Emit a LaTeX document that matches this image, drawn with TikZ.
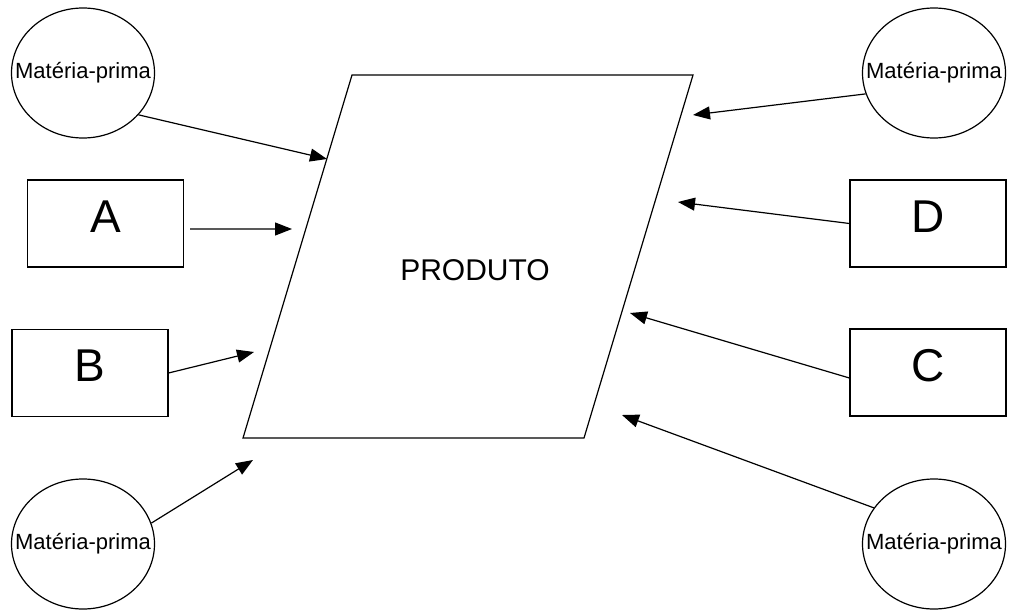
\documentclass[tikz,border=0pt]{standalone}
\usepackage{fontspec}
\setmainfont{Liberation Sans}
\usetikzlibrary{shapes.geometric,arrows.meta}
\newcommand{\mptext}{Mat\'eria-prima}
\newcommand{\mpfont}{\fontsize{22}{24}\selectfont}
\newcommand{\boxfont}{\fontsize{46}{50}\selectfont}
\begin{document}
\begin{tikzpicture}[x=1pt,y=-1pt,line width=1.2pt,
    mp node/.style={ellipse,draw,inner sep=0pt,minimum width=143pt,minimum height=130pt,
      label={[font=\mpfont,inner sep=0pt]center:\mptext}},
    box node/.style={rectangle,draw,inner sep=0pt,minimum width=156pt,minimum height=87pt,text depth=14pt,font=\boxfont},
    feed/.style={-{Triangle[length=17pt,width=13pt]}}]
    \useasboundingbox (0,0) rectangle (1009,610);

    \node[mp node] (mpTL) at (83,73) {};
    \node[box node] (A) [below of=mpTL,node distance=150.5pt,xshift=22.5pt] {A};
    \node[box node] (B) [below of=A,node distance=149.5pt,xshift=-15.5pt] {B};
    \node[mp node] (mpBL) [below of=B,node distance=171pt,xshift=-7pt] {};

    \node[mp node] (mpTR) at (934,73) {};
    \node[box node] (D) [below of=mpTR,node distance=150.5pt,xshift=-6pt] {D};
    \node[box node] (C) [below of=D,node distance=149pt] {C};
    \node[mp node] (mpBR) [below of=C,node distance=171.5pt,xshift=6pt] {};

    \coordinate (pTL) at (352,75);
    \coordinate (pTR) at (693,75);
    \coordinate (pBR) at (584,438);
    \coordinate (pBL) at (243,438);
    \draw (pTL) -- (pTR) -- (pBR) -- (pBL) -- cycle;
    \node (prod) at (475,270) {\fontsize{30}{34}\selectfont PRODUTO};

    \coordinate (tipTL) at (327,159);
    \coordinate (tipA) at (292,229);
    \coordinate (tipB) at (254,352);
    \coordinate (tipBL) at (253,460);
    \coordinate (tipTR) at (693,115);
    \coordinate (tipD) at (678,202);
    \coordinate (tipC) at (630,313);
    \coordinate (tipBR) at (622,415);

    \path
    (mpTL.-37) edge[feed] (tipTL)
    (A.-4) edge[feed,shorten <=6pt] (tipA)
    (B.east) edge[feed] (tipB)
    (mpBL.17) edge[feed] (tipBL)

    (mpTR.197) edge[feed] (tipTR)
    (D.west) edge[feed] (tipD)
    (C.184) edge[feed] (tipC)
    (mpBR.149) edge[feed] (tipBR);
  \end{tikzpicture}
\end{document}
